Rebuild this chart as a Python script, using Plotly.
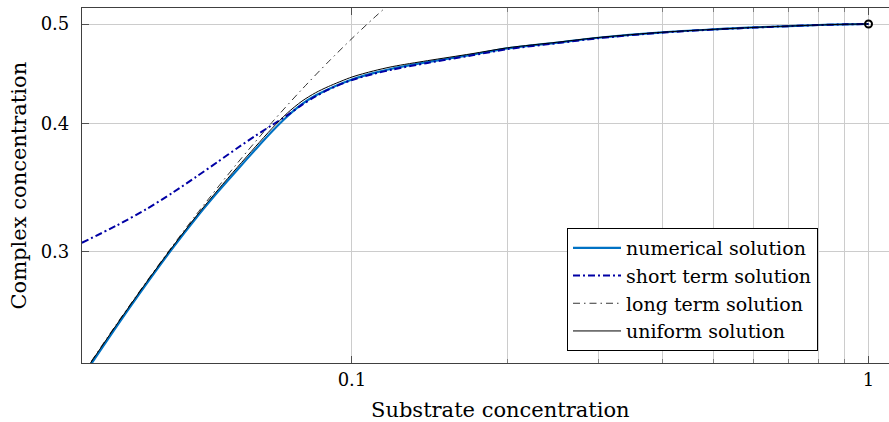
import math
import plotly.graph_objects as go

# ---- data ----
x_long = [0.03, 0.035, 0.04, 0.045, 0.05, 0.06, 0.07, 0.08, 0.09, 0.1, 0.11, 0.12]
y_long = [0.2273, 0.2549, 0.2804, 0.3041, 0.3262, 0.3659, 0.4009, 0.4318, 0.4593, 0.4840, 0.5063, 0.5265]

x_sol = [0.03, 0.035, 0.04, 0.045, 0.05, 0.055, 0.06, 0.065, 0.07, 0.075, 0.08, 0.085, 0.09,
         0.1, 0.11, 0.12, 0.14, 0.17, 0.2, 0.25, 0.3, 0.4, 0.5, 0.6, 0.7, 0.8, 0.9, 1.0]
y_uniform = [0.2270, 0.2545, 0.2800, 0.3035, 0.3250, 0.3445, 0.3625, 0.3795, 0.3955, 0.4095, 0.4205, 0.4285, 0.4345,
             0.4439, 0.4500, 0.4545, 0.4605, 0.4676, 0.4740, 0.4800, 0.4851, 0.4909, 0.4940, 0.4962, 0.4977, 0.4989, 0.4997, 0.5]
y_numerical = [0.2260, 0.2535, 0.2790, 0.3025, 0.3238, 0.3430, 0.3605, 0.3772, 0.3928, 0.4065, 0.4177, 0.4258, 0.4320,
               0.4415, 0.4478, 0.4525, 0.4590, 0.4665, 0.4733, 0.4796, 0.4848, 0.4908, 0.4940, 0.4962, 0.4977, 0.4989, 0.4997, 0.5]
y_short = [0.3060, 0.3180, 0.3300, 0.3425, 0.3550, 0.3670, 0.3785, 0.3890, 0.3985, 0.4075, 0.4170, 0.4250, 0.4315,
           0.4410, 0.4470, 0.4515, 0.4582, 0.4658, 0.4726, 0.4790, 0.4843, 0.4905, 0.4938, 0.4960, 0.4976, 0.4988, 0.4996, 0.5]

end_x = [1.0]
end_y = [0.5]

x_major = [0.1, 1]
x_major_text = ["0.1", "1"]
x_minor = [0.2, 0.3, 0.4, 0.5, 0.6, 0.7, 0.8, 0.9]
y_ticks = [0.3, 0.4, 0.5]
y_tick_text = ["0.3", "0.4", "0.5"]

FONT = "DejaVu Serif"
W, H = 889, 422
L, R, T, B = 82, 0, 8, 59

fig = go.Figure()
fig.add_trace(go.Scatter(x=x_sol, y=y_numerical, mode="lines", name="numerical solution",
                         line=dict(color="rgb(0,114,196)", width=2.2, shape="spline", smoothing=0.8)))
fig.add_trace(go.Scatter(x=x_sol, y=y_short, mode="lines", name="short term solution",
                         line=dict(color="rgb(0,0,165)", width=2, dash="7px,3px,2px,3px",
                                   shape="spline", smoothing=0.8)))
fig.add_trace(go.Scatter(x=x_long, y=y_long, mode="lines", name="long term solution",
                         line=dict(color="black", width=0.8, dash="7px,4px,1.5px,4px",
                                   shape="spline", smoothing=0.8)))
fig.add_trace(go.Scatter(x=x_sol, y=y_uniform, mode="lines", name="uniform solution",
                         line=dict(color="black", width=1, shape="spline", smoothing=0.8)))
fig.add_trace(go.Scatter(x=end_x, y=end_y, mode="markers", showlegend=False,
                         marker=dict(symbol="circle-open", size=7, color="black",
                                     line=dict(width=2, color="black"))))

pw = W - L - R
ph = H - T - B
xr = [-1.5227, -1 + (W - R - 352) / 516.5]
yr = [math.log10(0.2336), math.log10(0.5183)]

fig.update_xaxes(type="log", range=xr, tickvals=x_major, ticktext=x_major_text,
                 showgrid=True, gridcolor="#cccccc", gridwidth=1,
                 showline=True, linecolor="#404040", linewidth=1.2, mirror="ticks",
                 ticks="inside", ticklen=7, tickcolor="#505050",
                 minor=dict(tickvals=x_minor, showgrid=True, gridcolor="#cccccc", gridwidth=1,
                            ticks="inside", ticklen=4, tickcolor="#808080"),
                 tickfont=dict(family=FONT, size=18, color="black"),
                 zeroline=False)
fig.update_yaxes(type="log", range=yr, tickvals=y_ticks, ticktext=y_tick_text,
                 showgrid=True, gridcolor="#cccccc", gridwidth=1,
                 showline=True, linecolor="#404040", linewidth=1.2, mirror=False,
                 ticks="inside", ticklen=7, tickcolor="#505050", ticklabelstandoff=8,
                 tickfont=dict(family=FONT, size=18, color="black"),
                 zeroline=False)

fig.add_annotation(text="Substrate concentration", xref="paper", yref="paper",
                   x=(500 - L) / pw, y=-(410 - (H - B)) / ph, xanchor="center", yanchor="middle",
                   showarrow=False, font=dict(family=FONT, size=21, color="black"))
fig.add_annotation(text="Complex concentration", xref="paper", yref="paper",
                   x=(18 - L) / pw, y=0.5, xanchor="center", yanchor="middle", textangle=-90,
                   showarrow=False, font=dict(family=FONT, size=21, color="black"))

fig.update_layout(
    width=W, height=H,
    margin=dict(l=L, r=R, t=T, b=B),
    plot_bgcolor="white", paper_bgcolor="white",
    font=dict(family=FONT),
    legend=dict(x=(567 - L) / pw, y=((H - B) - 228) / ph, xanchor="left", yanchor="top",
                bordercolor="black", borderwidth=1, bgcolor="white",
                font=dict(family=FONT, size=19, color="black"),
                tracegroupgap=0, itemwidth=48),
)

fig.write_html("out.html")
